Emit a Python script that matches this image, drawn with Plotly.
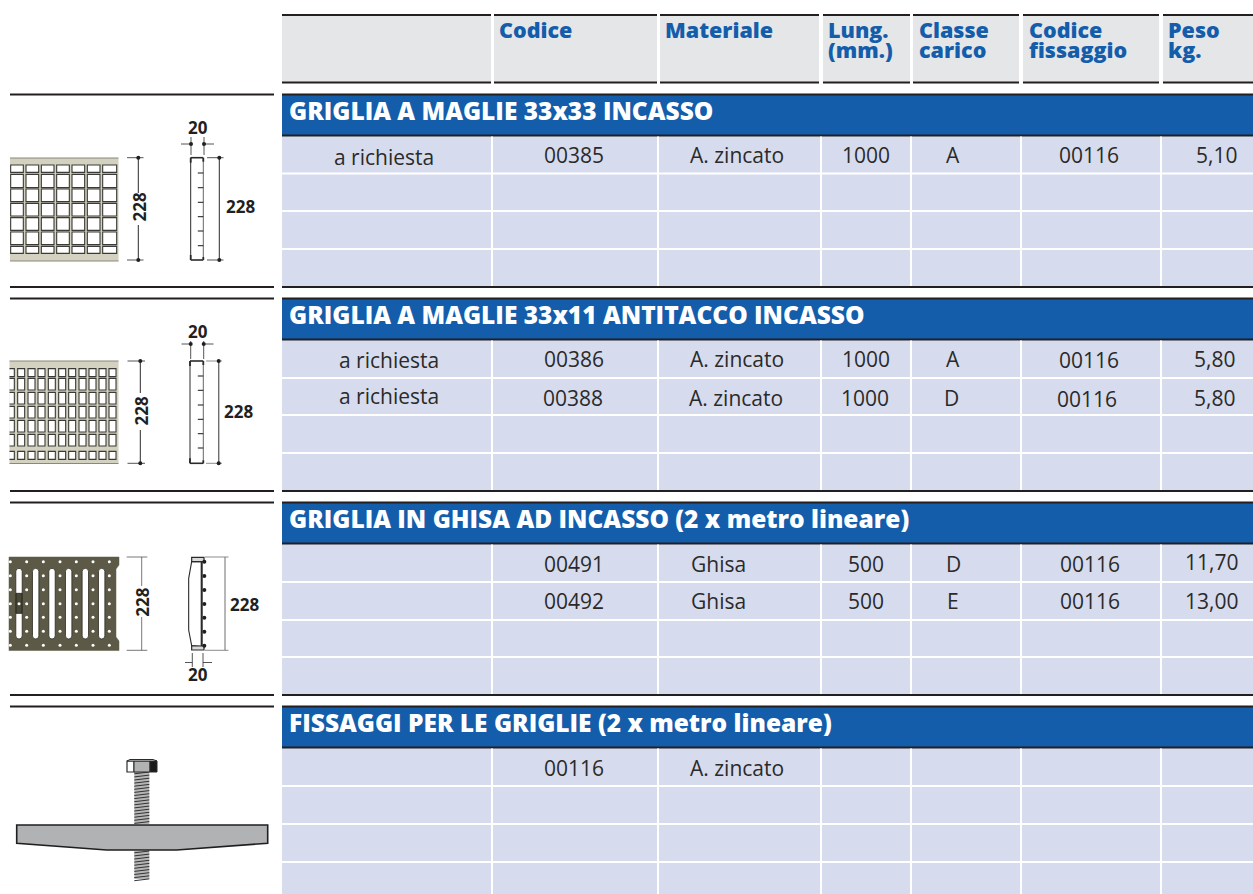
import plotly.graph_objects as go

# ---------- table content ----------
header_cols = [["Codice"], ["Materiale"], ["Lung.", "(mm.)"], ["Classe", "carico"], ["Codice", "fissaggio"], ["Peso", "kg."]]
section_titles = ["GRIGLIA A MAGLIE 33x33 INCASSO", "GRIGLIA A MAGLIE 33x11 ANTITACCO INCASSO",
                  "GRIGLIA IN GHISA AD INCASSO (2 x metro lineare)", "FISSAGGI PER LE GRIGLIE (2 x metro lineare)"]
row_a = ["a richiesta", "00385", "A. zincato", "1000", "A", "00116", "5,10"]
row_b1 = ["a richiesta", "00386", "A. zincato", "1000", "A", "00116", "5,80"]
row_b2 = ["a richiesta", "00388", "A. zincato", "1000", "D", "00116", "5,80"]
row_c1 = ["", "00491", "Ghisa", "500", "D", "00116", "11,70"]
row_c2 = ["", "00492", "Ghisa", "500", "E", "00116", "13,00"]
row_d1 = ["", "00116", "A. zincato", "", "", "", ""]
dim_height = "228"
dim_width = "20"

# ---------- page layout (pixels) ----------
BLUE, ROW, HEAD, INK, DARK = "#135DAB", "#D6DCEE", "#E5E6E8", "#2B2A29", "#231F20"
FONT = "Open Sans"
head_x = [(282, 491), (494, 657), (660, 819), (823, 910), (913, 1019), (1023, 1159), (1163, 1253)]
head_text_x = [496.5, 662.5, 825.5, 916.5, 1026.5, 1166]
col_gaps = [492, 658, 821, 911, 1021, 1161]
sec_top = [94, 298, 502, 706]
sec_bottom = [287, 491, 695, 894]
row_gaps = [[173.5, 211, 249], [378, 415, 453], [582, 620, 657], [786, 824, 862]]
title_y = [111, 315, 519, 723]
cell_rows = [
    (row_a, [384, 574, 737, 866, 953, 1089, 1216], [158, 156, 156, 156, 156, 156, 156]),
    (row_b1, [388.5, 574, 737, 866, 953, 1089, 1214], [361, 360, 360, 360, 360, 361, 360]),
    (row_b2, [389, 573, 736, 865, 951, 1087, 1214], [397, 399, 399, 399, 399, 400, 399]),
    (row_c1, [0, 574, 718, 866, 953, 1090, 1211], [0, 565, 565, 565, 565, 565, 563]),
    (row_c2, [0, 574, 718, 866, 953, 1090, 1211], [0, 602, 602, 602, 602, 602, 602]),
    (row_d1, [0, 574, 737, 0, 0, 0, 0], [0, 769, 769, 0, 0, 0, 0]),
]

shapes, ann = [], []

def rect(x0, y0, x1, y1, fill, line=None, w=0):
    shapes.append(dict(type="rect", x0=x0, y0=y0, x1=x1, y1=y1, fillcolor=fill, layer="below",
                       line=dict(color=line or fill, width=w)))

def seg(x0, y0, x1, y1, color=INK, w=1.0):
    shapes.append(dict(type="line", x0=x0, y0=y0, x1=x1, y1=y1, layer="below", line=dict(color=color, width=w)))

def poly(pts, fill, line=INK, w=1.0, close=True):
    p = "M" + " L".join(f"{x},{y}" for x, y in pts) + (" Z" if close else "")
    shapes.append(dict(type="path", path=p, fillcolor=fill, layer="below", line=dict(color=line, width=w)))

def text(s, x, y, size, color=INK, anchor="center", weight=400, angle=0):
    ann.append(dict(text=s, x=x, y=y - 1, xref="x", yref="y", showarrow=False, xanchor=anchor, yanchor="middle",
                    textangle=angle, font=dict(family=FONT, size=size, color=color, weight=weight)))

# header
for x0, x1 in head_x:
    rect(x0, 15, x1, 83, HEAD)
    rect(x0, 14, x1, 16, DARK)
    rect(x0, 81.5, x1, 83.5, DARK)
for lines, x in zip(header_cols, head_text_x):
    for ln, y in zip(lines, [30, 50.5]):
        text(ln, x, y, 21.5, BLUE, "left", 800)

# sections
for i in range(4):
    t, b = sec_top[i], sec_bottom[i]
    rect(282, t + 1, 1253, b, ROW)
    rect(282, t, 1253, t + 42, BLUE)
    rect(282, t - 0.5, 1253, t + 1.5, DARK)
    rect(282, t + 40.5, 1253, t + 42.5, DARK)
    for g in row_gaps[i]:
        rect(282, g - 1, 1253, g + 1, "#FFFFFF")
    for g in col_gaps:
        rect(g - 1, t + 42.5, g + 1, b, "#FFFFFF")
    if i < 3:
        rect(282, b - 1, 1253, b + 1, DARK)
    rect(10, t - 0.5, 274, t + 1.5, DARK)
    if i < 3:
        rect(10, b - 1, 274, b + 1, DARK)
    text(section_titles[i], 286.5, title_y[i], 24.5, "#FFFFFF", "left", 800)

for vals, xs, ys in cell_rows:
    for v, x, y in zip(vals, xs, ys):
        if v:
            text(v, x, y, 21, INK)

# --- drawing helpers for the little technical sketches ---
dots_x, dots_y = [], []
white_x, white_y = [], []

def dot(x, y):
    dots_x.append(x); dots_y.append(y)

GRATE = "#D3D1BF"
# sketch 1: 33x33 mesh
rect(10, 158, 118.5, 261, GRATE)
seg(10, 158, 118.5, 158, "#8A887A", 1.2)
seg(10, 261, 118.5, 261, "#8A887A", 1.2)
for cx0, cx1 in [(32, 70), (78, 116), (124, 162), (170, 208), (216, 254), (262, 300), (308, 350)]:
    for cy0, cy1 in [(240, 262), (268, 308), (312, 350), (355, 393), (398, 436), (441, 479), (484, 505)]:
        rect(cx0 / 3, 85 + cy0 / 3, cx1 / 3, 85 + cy1 / 3, "#FFFFFF", "#3A3A36", 1.1)
# sketch 2: 33x11 mesh
rect(9.5, 361, 118.5, 463.5, GRATE)
seg(9.5, 361, 118.5, 361, "#8A887A", 1.2)
seg(9.5, 463.5, 118.5, 463.5, "#8A887A", 1.2)
mesh2_rows = [(236, 260), (265, 300), (307, 342), (349, 384), (391, 426), (433, 468), (484, 508)]
for cx0, cx1 in [(53, 74), (84, 105), (114, 135), (145, 166), (176, 197), (206, 227), (237, 258), (267, 288), (297, 318), (327, 348)]:
    for cy0, cy1 in mesh2_rows:
        rect(cx0 / 3, 290 + cy0 / 3, cx1 / 3, 290 + cy1 / 3, "#FFFFFF", "#3A3A36", 1.1)
for cy0, cy1 in mesh2_rows:  # cut-off first column, open at the left
    y0, y1 = 290 + cy0 / 3, 290 + cy1 / 3
    rect(9.5, y0, 43 / 3, y1, "#FFFFFF")
    poly([(9.5, y0), (43 / 3, y0), (43 / 3, y1), (9.5, y1)], "rgba(0,0,0,0)", "#3A3A36", 1.1, close=False)
# sketch 3: cast iron
IRON = "#5C5A47"
poly([(9, 557), (119, 557), (119, 565), (116, 569), (116, 637), (119, 641), (119, 650.5), (9, 650.5)], IRON, IRON, 0.5)
for sx in [57, 107, 156, 206, 256, 305]:
    x = sx / 3
    y0, y1 = 495 + 220 / 3, 495 + 432 / 3
    r = 3.2
    shapes.append(dict(type="path", layer="below", fillcolor="#FFFFFF", line=dict(color="#2B2A20", width=0.8),
        path=f"M{x-r},{y0+r} Q{x-r},{y0} {x},{y0} Q{x+r},{y0} {x+r},{y0+r} L{x+r},{y1-r} Q{x+r},{y1} {x},{y1} Q{x-r},{y1} {x-r},{y1-r} Z"))
rect(16, 495 + 295 / 3, 22, 495 + 355 / 3, "#4A4838", "#1F1E16", 0.8)
for zx in [31, 80, 130, 180, 229, 279, 328]:
    for zy in [200, 242, 284, 326, 367, 409, 451]:
        white_x.append(zx / 3); white_y.append(495 + zy / 3)
white_x.append(57 / 3); white_y.append(495 + 326 / 3)

# dimension: vertical with optional dots and a gap
def vdim(x, y0, y1, tick0, tick1, gap=None, dots=True, color=INK, w=1.0):
    if gap:
        seg(x, y0, x, gap[0], color, w); seg(x, gap[1], x, y1, color, w)
    else:
        seg(x, y0, x, y1, color, w)
    seg(tick0, y0, tick1, y0, color, 0.8); seg(tick0, y1, tick1, y1, color, 0.8)
    if dots:
        dot(x, y0); dot(x, y1)

# profiles 1, 2
def profile(x0, x1, y0, y1, ticks, zero):
    seg(x0, y0, x0, y1, INK, 1.0)
    seg(x1, y0 + 2, x1, y1, "#555555", 0.9)
    seg(x0, y0, x1, y0, INK, 1.6)
    seg(x0, y1, x1, y1, INK, 1.6)
    seg(x0, y0, x0, y0 + 5, INK, 1.8); seg(x1, y0, x1, y0 + 4, INK, 1.8)
    seg(x0, y1, x0, y1 - 5, INK, 1.8); seg(x1, y1, x1, y1 - 3, INK, 1.8)
    for t in ticks:
        seg(x1 - 5.5, zero + t / 3, x1, zero + t / 3, INK, 1.1)

def widthdim(xl, xr, y, ext0, ext1, out0, out1, dots=True):
    seg(out0, y, xl, y, INK, 0.8); seg(xr, y, out1, y, INK, 0.8)
    seg(xl, ext0, xl, ext1, INK, 0.8); seg(xr, ext0, xr, ext1, INK, 0.8)
    if dots:
        dot(xl, y); dot(xr, y)

DIM = 17
vdim(138.3, 157.7, 260, 127, 143.5, (193, 225))
text(dim_height, 139, 208.5, DIM, DARK, weight=700, angle=-90)
profile(190.7, 203.3, 157.7, 260, [264, 308, 352, 395, 438, 482], 85)
widthdim(191, 204, 144, 137, 155, 181, 214)
text(dim_width, 198.3, 128, DIM, DARK, weight=700)
vdim(219.3, 157.7, 260, 207, 223.5)
text(dim_height, 240.5, 207.5, DIM, DARK, weight=700)

vdim(140.3, 361, 463.3, 127.5, 145, (393, 430))
text(dim_height, 140.5, 412, DIM, DARK, weight=700, angle=-90)
profile(190, 203.3, 361, 463.3, [258, 301, 345, 388, 431, 474], 290)
widthdim(190.7, 203.7, 344, 341, 359, 181.5, 213.5)
text(dim_width, 198, 332, DIM, DARK, weight=700)
vdim(218.7, 361, 463.3, 206, 222, color="#6E6E6E", w=1.4)
text(dim_height, 238.5, 412, DIM, DARK, weight=700)

vdim(141.7, 557, 650.3, 126.7, 147.3, (586, 617), dots=False, color="#555555", w=0.8)
text(dim_height, 141.7, 603, DIM, DARK, weight=700, angle=-90)
prof3 = [(575, 200), (605, 200), (605, 455), (575, 452), (566, 405), (566, 250)]
poly([(x / 3, 495 + y / 3) for x, y in prof3], "#FFFFFF", INK, 1.1)
seg(605 / 3, 495 + 200 / 3, 605 / 3, 495 + 455 / 3, INK, 2.0)
rect(575 / 3, 495 + 187 / 3, 612 / 3, 495 + 200 / 3, "#DADADA", INK, 1.2)
rect(575 / 3, 495 + 453 / 3, 612 / 3, 495 + 465 / 3, "#DADADA", INK, 1.2)
for zy in [200, 243, 285, 327, 368, 410, 452]:
    dot(613 / 3, 495 + zy / 3)
vdim(225, 557, 650.3, 205, 228.5, dots=False, color="#6E6E6E", w=1.0)
text(dim_height, 244.5, 605, DIM, DARK, weight=700)
widthdim(192.3, 203, 662.5, 653, 667, 185, 212, dots=False)
text(dim_width, 198.3, 675, DIM, DARK, weight=700)

# sketch 4: bolt
rect(134.3, 772, 149.3, 824, "#B5B5B5")
rect(134.3, 851, 149.3, 879, "#B5B5B5")
for ystart, yend in [(772, 824), (851, 879)]:
    y = ystart
    while y < yend:
        seg(134.3, y + 1.8, 149.3, y, "#333333", 1.0)
        y += 3.1
rect(127, 761, 134, 772, "#FFFFFF", INK, 1.2)
rect(134, 761, 150, 772, "#B0B2B4", INK, 1.0)
rect(150, 761, 157, 772, "#1A1A1A", INK, 1.0)
poly([(127, 761), (130, 759.5), (153, 759.5), (157, 761)], "#FFFFFF", INK, 1.0)
poly([(16.7, 825), (267.7, 825), (267.7, 843.3), (176.7, 850), (106.7, 850), (16.7, 843.3)], "#B0B2B4", "#1F1F1F", 1.6)

fig = go.Figure()
fig.add_trace(go.Scatter(x=dots_x, y=dots_y, mode="markers", marker=dict(size=4, color=DARK, line=dict(width=0)), hoverinfo="skip"))
fig.add_trace(go.Scatter(x=white_x, y=white_y, mode="markers", marker=dict(size=3, color="#FFFFFF", line=dict(width=0)), hoverinfo="skip"))
fig.update_layout(
    width=1253, height=894, margin=dict(l=0, r=0, t=0, b=0), paper_bgcolor="#FFFFFF", plot_bgcolor="#FFFFFF",
    showlegend=False, shapes=shapes, annotations=ann,
    xaxis=dict(range=[0, 1253], visible=False, fixedrange=True),
    yaxis=dict(range=[894, 0], visible=False, fixedrange=True),
)
fig.write_html("out.html", config=dict(displayModeBar=False, staticPlot=True),
               post_script="document.body.style.margin='0';")
